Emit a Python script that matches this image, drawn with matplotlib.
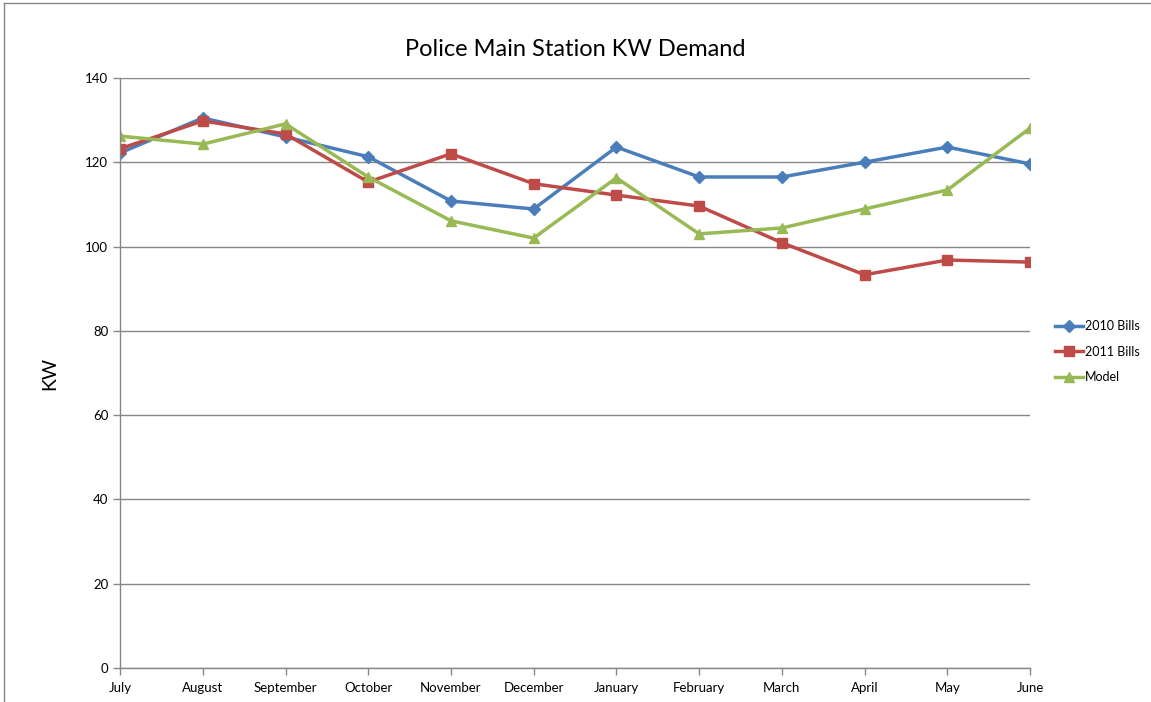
import matplotlib.pyplot as plt
from matplotlib.lines import Line2D

plt.rcParams['font.family'] = ['Lato', 'DejaVu Sans']

months = ['July', 'August', 'September', 'October', 'November', 'December',
          'January', 'February', 'March', 'April', 'May', 'June']
bills_2010 = [122.2, 130.5, 126.0, 121.3, 110.8, 108.9, 123.6, 116.5, 116.5, 120.0, 123.6, 119.6]
bills_2011 = [123.2, 129.8, 126.7, 115.3, 122.0, 114.9, 112.2, 109.6, 100.9, 93.3, 96.8, 96.3]
model = [126.2, 124.3, 129.1, 116.5, 106.1, 102.0, 116.3, 103.0, 104.4, 108.9, 113.4, 128.1]

series = [
    ('2010 Bills', bills_2010, '#4A7EBB', 'D', 6),
    ('2011 Bills', bills_2011, '#BE4B48', 's', 7),
    ('Model', model, '#98B954', '^', 7.5),
]

fig = plt.figure(figsize=(11.51, 7.02), dpi=100)
ax = fig.add_axes([0.1043, 0.0484, 0.7906, 0.8406])

x = range(len(months))
for label, vals, color, marker, ms in series:
    ax.plot(x, vals, color=color, marker=marker, markersize=ms, linewidth=2.5,
            label=label)

ax.set_xlim(0, len(months) - 1)
ax.set_ylim(0, 140)
ax.set_yticks(range(0, 141, 20))
ax.set_xticks(list(x))
ax.set_xticklabels(months)
ax.yaxis.grid(True, color='#868686', linewidth=1)
ax.set_axisbelow(True)

for side in ['top', 'right']:
    ax.spines[side].set_visible(False)
for side in ['left', 'bottom']:
    ax.spines[side].set_color('#868686')
    ax.spines[side].set_linewidth(1)
ax.tick_params(axis='both', colors='#868686', labelcolor='black', labelsize=9.5,
               length=5, width=1)
ax.tick_params(axis='x', pad=5)

ax.set_title('Police Main Station KW Demand', fontsize=17, pad=16)
ax.set_ylabel('KW', fontsize=14, labelpad=19)

ax.legend(loc='center left', bbox_to_anchor=(1.0275, 0.536), frameon=False,
          fontsize=9, handlelength=2.2, labelspacing=1.1, handletextpad=0.2,
          borderaxespad=0, borderpad=0)

# chart area border (top and left visible)
fig.add_artist(Line2D([0.0035, 1], [0.996, 0.996], transform=fig.transFigure,
                      color='#868686', linewidth=1))
fig.add_artist(Line2D([0.0035, 0.0035], [0, 0.996], transform=fig.transFigure,
                      color='#868686', linewidth=1))

plt.savefig('out.png', dpi=100)
